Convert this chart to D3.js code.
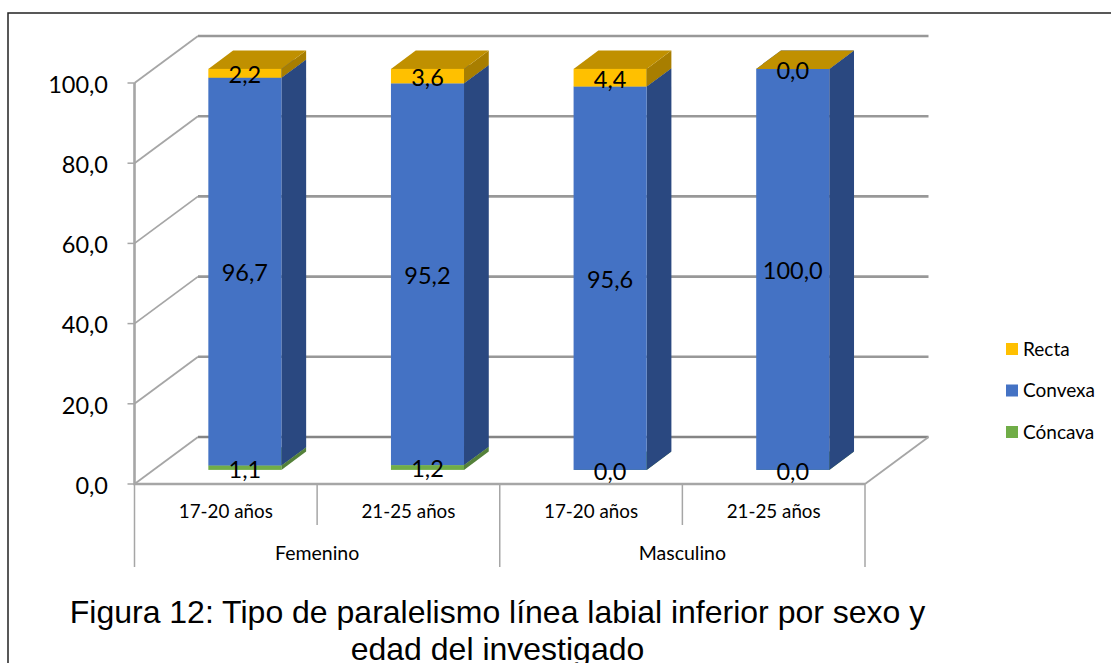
<!DOCTYPE html>
<html>
<head>
<meta charset="utf-8">
<script src="https://cdn.jsdelivr.net/npm/d3@7"></script>
<style>
  html, body { margin: 0; padding: 0; background: #fff; overflow: hidden; }
  text { font-family: Lato, "Open Sans", sans-serif; fill: #000; }
  .caption { font-family: "Liberation Sans", Arial, sans-serif; font-size: 32px; }
</style>
</head>
<body>
<svg id="chart" width="1111" height="663"></svg>
<script>
// Lower-lip line parallelism by sex and age group, as stacked 3D columns.
const groups = ["Femenino", "Masculino"];
const ages = ["17-20 años", "21-25 años", "17-20 años", "21-25 años"];
const barGroup = [0, 0, 1, 1];
const concava = [1.1, 1.2, 0.0, 0.0];
const convexa = [96.7, 95.2, 95.6, 100.0];
const recta = [2.2, 3.6, 4.4, 0.0];
const yTicks = [0, 20, 40, 60, 80, 100];
const seriesNames = ["Cóncava", "Convexa", "Recta"];
const seriesValues = [concava, convexa, recta];
const legendOrder = ["Recta", "Convexa", "Cóncava"];

const faceColor = { "Cóncava": "#70ad47", "Convexa": "#4472c4", "Recta": "#ffc000" };
const topColor = { "Cóncava": "#5f9339", "Convexa": "#3a61a7", "Recta": "#c09000" };
const sideColor = { "Cóncava": "#54813a", "Convexa": "#2a4880", "Recta": "#a87e00" };

const svg = d3.select("#chart");

// Oblique projection: depth 0 is the front plane of the floor, depth 1 the back wall.
const depthX = 63.5, depthY = -47;
const x = d3.scaleLinear().domain([0, 4]).range([134.5, 865]);
const y = d3.scaleLinear().domain([0, 100]).range([484, 83]);
const px = (c, d) => x(c) + d * depthX;
const py = (v, d) => y(v) + d * depthY;
const pts = list => list.map(p => p.join(",")).join(" ");
const comma = v => d3.format(".1f")(v).replace(".", ",");

const wallColor = "#a6a6a6";
const backColor = "#989898";
const floorColor = "#858585";
const gridG = svg.append("g").attr("fill", "none");

// Walls: each gridline steps back along the side wall, then runs along the back.
yTicks.forEach(t => {
  gridG.append("line")
    .attr("x1", px(0, 0)).attr("y1", py(t, 0))
    .attr("x2", px(0, 1)).attr("y2", py(t, 1))
    .attr("stroke", wallColor).attr("stroke-width", 1.8);
  gridG.append("line")
    .attr("x1", px(0, 1)).attr("y1", py(t, 1))
    .attr("x2", px(4, 1)).attr("y2", py(t, 1))
    .attr("stroke", t === 0 ? floorColor : backColor)
    .attr("stroke-width", 2.6);
  gridG.append("line")
    .attr("x1", px(0, 0) - 7).attr("x2", px(0, 0))
    .attr("y1", py(t, 0)).attr("y2", py(t, 0))
    .attr("stroke", wallColor).attr("stroke-width", 1.5);
  svg.append("text")
    .attr("x", 108).attr("y", py(t, 0))
    .attr("dy", "0.42em").attr("text-anchor", "end")
    .style("font-size", "23.5px")
    .text(comma(t));
});

// Floor edges and the left axis line.
gridG.append("line")
  .attr("x1", px(4, 1)).attr("y1", py(0, 1))
  .attr("x2", px(4, 0)).attr("y2", py(0, 0))
  .attr("stroke", wallColor).attr("stroke-width", 1.8);
gridG.append("polyline")
  .attr("points", pts([[px(4, 0), py(0, 0)], [px(0, 0), py(0, 0)], [px(0, 0), py(100, 0)]]))
  .attr("stroke", wallColor).attr("stroke-width", 2.6);

// Category separators: short between ages, long between sex groups.
d3.range(5).forEach(i => {
  gridG.append("line")
    .attr("x1", x(i)).attr("x2", x(i))
    .attr("y1", y(0)).attr("y2", i % 2 === 0 ? 567 : 525)
    .attr("stroke", wallColor).attr("stroke-width", 1.5);
});

// Columns sit between two depths; width is a fraction of each category slot.
const depthFront = 0.3, depthBack = 0.69;
const band = d3.scaleBand().domain(d3.range(4)).range([0, 4]).paddingInner(0.6).paddingOuter(0.3);

ages.forEach((age, i) => {
  const x0 = band(i), x1 = x0 + band.bandwidth();
  const g = svg.append("g");
  let base = 0;
  const labels = [];
  seriesNames.forEach((name, s) => {
    const v = seriesValues[s][i];
    const top = base + v;
    g.append("polygon")
      .attr("points", pts([[px(x1, depthFront), py(base, depthFront)], [px(x1, depthBack), py(base, depthBack)],
                           [px(x1, depthBack), py(top, depthBack)], [px(x1, depthFront), py(top, depthFront)]]))
      .attr("fill", sideColor[name]);
    g.append("polygon")
      .attr("points", pts([[px(x0, depthFront), py(top, depthFront)], [px(x1, depthFront), py(top, depthFront)],
                           [px(x1, depthBack), py(top, depthBack)], [px(x0, depthBack), py(top, depthBack)]]))
      .attr("fill", topColor[name]);
    g.append("rect")
      .attr("x", px(x0, depthFront)).attr("width", px(x1, depthFront) - px(x0, depthFront))
      .attr("y", py(top, depthFront)).attr("height", py(base, depthFront) - py(top, depthFront))
      .attr("fill", faceColor[name]);
    labels.push({ v, mid: base + v / 2 });
    base = top;
  });
  labels.forEach(l => {
    svg.append("text")
      .attr("x", px((x0 + x1) / 2, depthFront))
      .attr("y", py(l.mid, depthFront))
      .attr("dy", "0.42em").attr("text-anchor", "middle")
      .style("font-size", "23.5px")
      .text(comma(l.v));
  });
  svg.append("text")
    .attr("x", x(i + 0.5)).attr("y", 511)
    .attr("dy", "0.35em").attr("text-anchor", "middle")
    .style("font-size", "18.8px")
    .text(age);
});

groups.forEach((group, g) => {
  const members = d3.range(4).filter(i => barGroup[i] === g);
  svg.append("text")
    .attr("x", x(d3.mean(members) + 0.5)).attr("y", 553)
    .attr("dy", "0.35em").attr("text-anchor", "middle")
    .style("font-size", "19.5px")
    .text(group);
});

// Legend
const legendY = d3.scalePoint().domain(legendOrder).range([349, 432]);
legendOrder.forEach(name => {
  svg.append("rect")
    .attr("x", 1006).attr("y", legendY(name) - 6)
    .attr("width", 12).attr("height", 12)
    .attr("fill", faceColor[name]);
  svg.append("text")
    .attr("x", 1023).attr("y", legendY(name))
    .attr("dy", "0.35em")
    .style("font-size", "19px")
    .text(name);
});

// Caption, running past the bottom edge of the frame
svg.append("text").attr("class", "caption")
  .attr("x", 497.5).attr("y", 623).attr("text-anchor", "middle")
  .text("Figura 12: Tipo de paralelismo línea labial inferior por sexo y");
svg.append("text").attr("class", "caption")
  .attr("x", 497.5).attr("y", 660).attr("text-anchor", "middle")
  .text("edad del investigado");

// Outer frame: left and top edges only
svg.append("polyline")
  .attr("points", pts([[8, 663], [8, 13], [1111, 13]]))
  .attr("fill", "none").attr("stroke", "#222").attr("stroke-width", 1.5);
</script>
</body>
</html>
